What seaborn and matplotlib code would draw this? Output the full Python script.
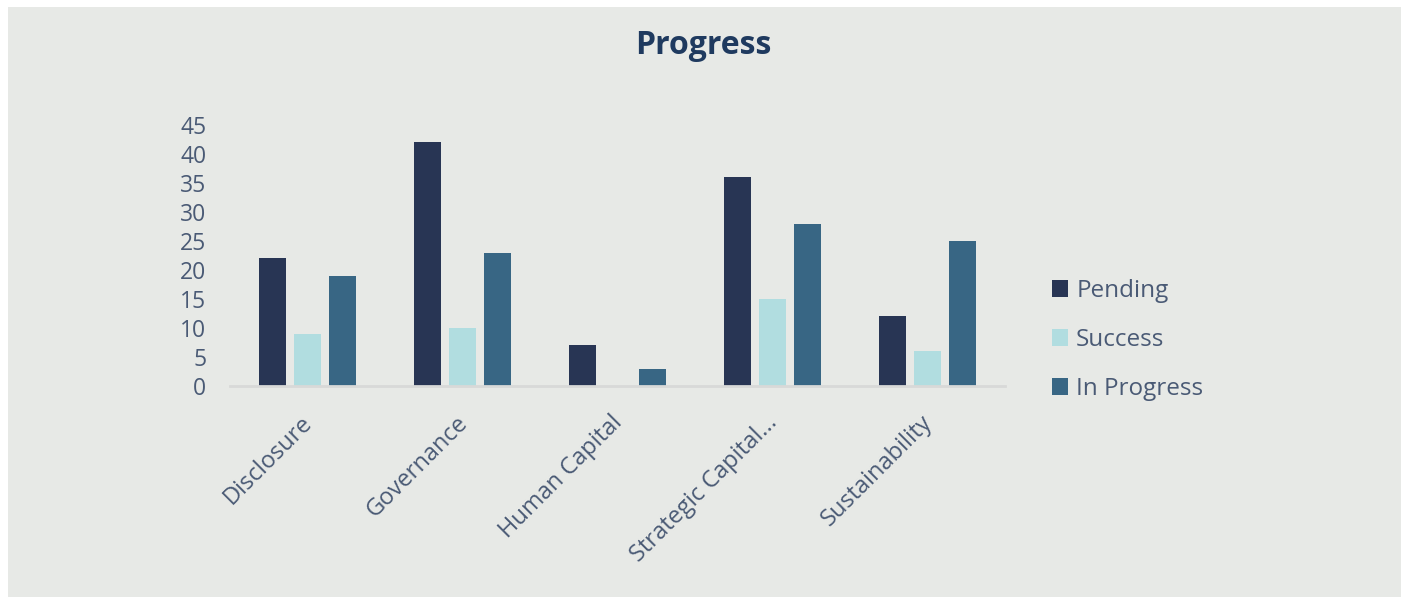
import matplotlib
matplotlib.use("Agg")
import matplotlib.pyplot as plt
import matplotlib.transforms as mtransforms
from matplotlib.patches import Rectangle
import seaborn as sns
import pandas as pd

# Topic categories and counts per status
categories = ["Disclosure", "Governance", "Human Capital", "Strategic Capital...", "Sustainability"]
pending = [22, 42, 7, 36, 12]
success = [9, 10, 0, 15, 6]
in_progress = [19, 23, 3, 28, 25]
statuses = ["Pending", "Success", "In Progress"]
status_colors = ["#283554", "#b1dde0", "#386684"]
y_ticks = [0, 5, 10, 15, 20, 25, 30, 35, 40, 45]

df = pd.DataFrame({
    "category": categories * 3,
    "status": [statuses[0]] * 5 + [statuses[1]] * 5 + [statuses[2]] * 5,
    "count": pending + success + in_progress,
})

sns.set_theme(style="white")
plt.rcParams["font.family"] = ["Open Sans", "DejaVu Sans"]

text_color = "#4a5a75"
panel_color = "#e7e9e6"

W, H = 1407, 599
fig = plt.figure(figsize=(W / 100, H / 100), dpi=100)
fig.patch.set_facecolor("white")
fig.patches.append(Rectangle((8 / W, 1 - 597 / H), (1401 - 8) / W, (597 - 7) / H,
                             transform=fig.transFigure, facecolor=panel_color,
                             edgecolor="none", zorder=-10))

ax = fig.add_axes([230 / W, 1 - 386 / H, (1005 - 230) / W, (386 - 125) / H])
ax.set_facecolor("none")

sns.barplot(data=df, x="category", y="count", hue="status", hue_order=statuses,
            palette=status_colors, saturation=1, width=0.68, gap=0.22,
            linewidth=0, ax=ax)

ax.set_xlim(-0.5, len(categories) - 0.5)
ax.set_ylim(0, 45)
ax.set_yticks(y_ticks)
ax.set_yticklabels([str(v) for v in y_ticks], fontsize=16.5, color=text_color)
ax.set_xlabel("")
ax.set_ylabel("")
for s in ["top", "right", "left"]:
    ax.spines[s].set_visible(False)
ax.spines["bottom"].set_color("#d8d9d8")
ax.spines["bottom"].set_linewidth(2)
ax.tick_params(axis="y", length=0, pad=17)
ax.tick_params(axis="x", length=0, pad=18)
# nudge the rotated category labels slightly left of their tick
shift = mtransforms.ScaledTranslation(-0.07, 0, fig.dpi_scale_trans)
for lbl in ax.get_xticklabels():
    lbl.set_rotation(45)
    lbl.set_ha("right")
    lbl.set_rotation_mode("anchor")
    lbl.set_fontsize(17)
    lbl.set_color(text_color)
    lbl.set_transform(lbl.get_transform() + shift)

handles, labels = ax.get_legend_handles_labels()
ax.legend(handles, labels, loc="center left",
          bbox_to_anchor=(1030 / W, 1 - 340 / H), bbox_transform=fig.transFigure,
          frameon=False, fontsize=17.5, labelcolor=text_color,
          handlelength=0.65, handleheight=0.65, handletextpad=0.35, labelspacing=1.03)

fig.suptitle("Progress", x=0.5, y=1 - 45 / H, va="center", fontsize=23,
             fontweight="bold", color="#1f3a5f")

fig.savefig("out.png", dpi=100)
